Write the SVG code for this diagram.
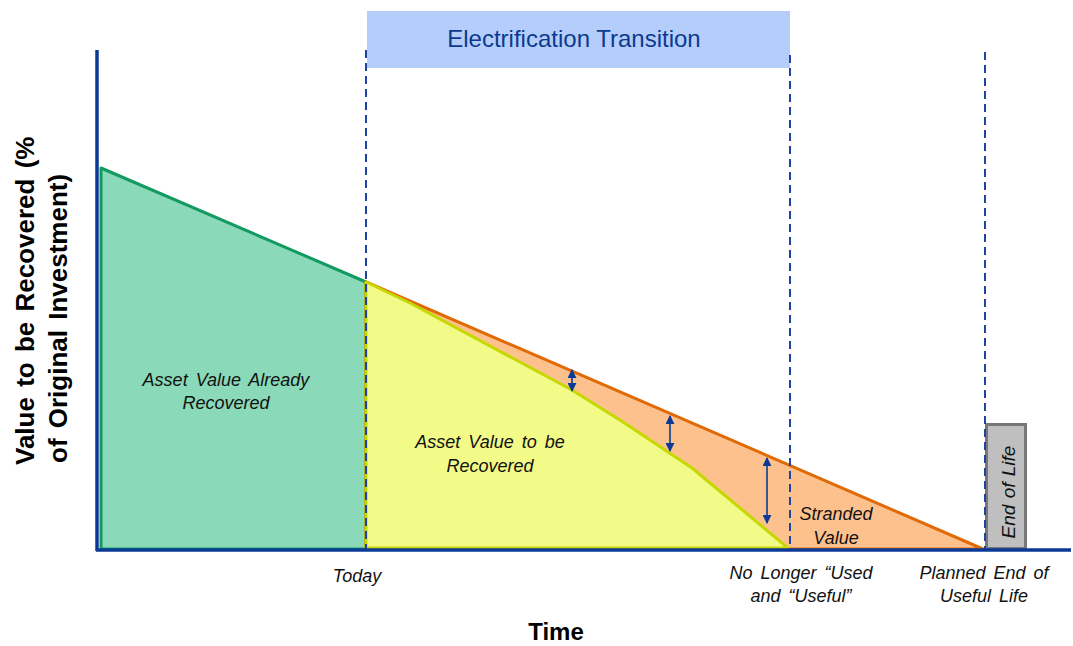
<svg xmlns="http://www.w3.org/2000/svg" width="1073" height="646" viewBox="0 0 1073 646">
<defs>
<marker id="ah" viewBox="0 0 10 10" refX="9" refY="5" markerWidth="9" markerHeight="9" markerUnits="userSpaceOnUse" orient="auto-start-reverse">
<path d="M0,0 L10,5 L0,10 z" fill="#0B3A96"/>
</marker>
<style>
.lbl{font-family:"Liberation Sans",Arial,sans-serif;font-style:italic;font-size:18px;word-spacing:3px;fill:#111;text-anchor:middle}
.dash{stroke:#1F44A0;stroke-width:2;stroke-dasharray:8,5;fill:none}
.arr{stroke:#0B3A96;stroke-width:1.6;fill:none;marker-start:url(#ah);marker-end:url(#ah)}
.axis{stroke:#0A3A96;stroke-width:3.5;fill:none}
.ttl{font-family:"Liberation Sans",Arial,sans-serif;font-weight:bold;fill:#000}
</style>
</defs>
<g id="recovered">
<polygon points="101,168 366,282 366,549 101,549" fill="#8AD9B8" stroke="#129A60" stroke-width="3" stroke-linejoin="round"/>
<text class="lbl" x="226" y="386">Asset Value Already</text>
<text class="lbl" x="226" y="409">Recovered</text>
</g>
<g id="stranded">
<polygon points="366,282 983,549 366,549" fill="#FDC18D" stroke="#E06A06" stroke-width="3" stroke-linejoin="round"/>
</g>
<g id="to-be-recovered">
<polygon points="366,282 410,303 572,390 623,422 692,468 788,548 366,548" fill="#F2FA88" stroke="#C6D800" stroke-width="3" stroke-linejoin="round"/>
<text class="lbl" x="490" y="448">Asset Value to be</text>
<text class="lbl" x="490" y="472">Recovered</text>
</g>
<g id="stranded-label">
<text class="lbl" x="836" y="520">Stranded</text>
<text class="lbl" x="836" y="544">Value</text>
</g>
<g id="transition">
<rect x="367" y="11" width="423" height="57" fill="#B5CDFB"/>
<text x="574" y="47" font-family="Liberation Sans,Arial,sans-serif" font-size="24" fill="#0B3A8E" text-anchor="middle">Electrification Transition</text>
</g>
<g id="end-of-life">
<rect x="986.5" y="424.5" width="39" height="124" fill="#BFBFBF" stroke="#777" stroke-width="3"/>
<text class="lbl" transform="translate(1015,492) rotate(-90)" x="0" y="0" style="font-size:19px;word-spacing:1px">End of Life</text>
</g>
<g id="connectors">
<line class="dash" x1="366" y1="50" x2="366" y2="549"/>
<line class="dash" x1="790" y1="55" x2="790" y2="549"/>
<line class="dash" x1="985" y1="52" x2="985" y2="549"/>
<line class="arr" x1="572" y1="370" x2="572" y2="391"/>
<line class="arr" x1="670" y1="416" x2="670" y2="451"/>
<line class="arr" x1="767" y1="458" x2="767" y2="523"/>
<line class="axis" x1="97" y1="50" x2="97" y2="551"/>
<line class="axis" x1="96" y1="550" x2="1071" y2="550"/>
</g>
<g id="x-labels">
<text class="lbl" x="357" y="582">Today</text>
<text class="lbl" x="801" y="579">No Longer “Used</text>
<text class="lbl" x="801" y="602">and “Useful”</text>
<text class="lbl" x="984" y="579">Planned End of</text>
<text class="lbl" x="984" y="602">Useful Life</text>
</g>
<g id="axis-titles">
<text class="ttl" x="556" y="640" font-size="24" text-anchor="middle">Time</text>
<text class="ttl" transform="translate(34,465) rotate(-90)" font-size="26" word-spacing="3">Value to be Recovered  (%</text>
<text class="ttl" transform="translate(67,463) rotate(-90)" font-size="26" word-spacing="3">of Original Investment)</text>
</g>
</svg>
